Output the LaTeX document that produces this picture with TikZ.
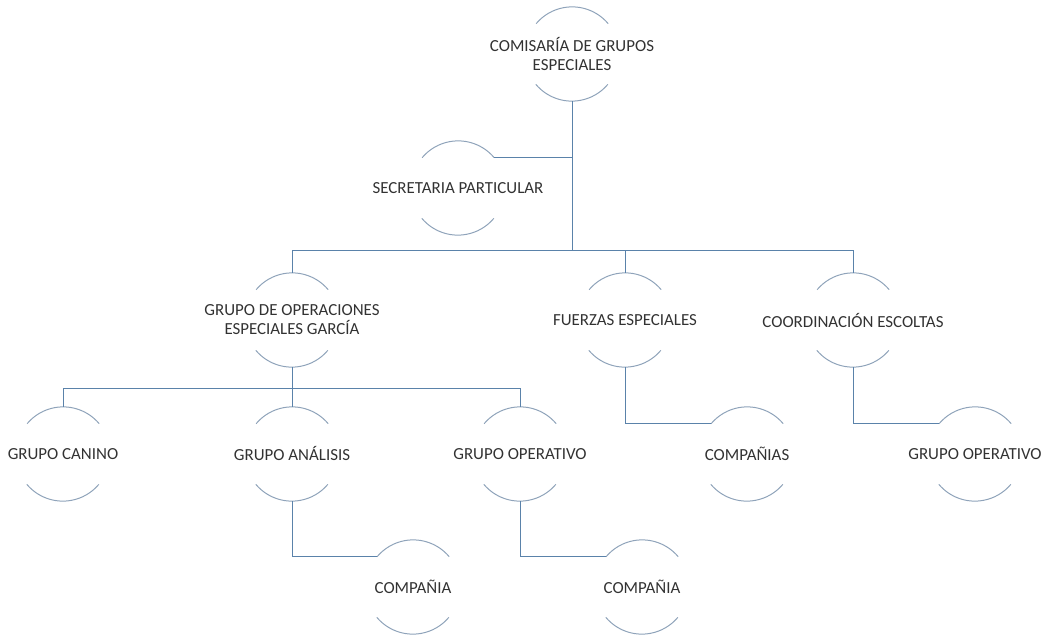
\documentclass[tikz,border=0pt]{standalone}
\usepackage{fontspec}
\setmainfont{Carlito}
\definecolor{arccol}{RGB}{143,163,186}
\definecolor{linecol}{RGB}{90,130,170}
\definecolor{txtcol}{RGB}{50,50,50}

\begin{document}
\begin{tikzpicture}[x=1pt,y=1pt]
        \tikzset{unit/.style = {circle, minimum size = 94pt, inner sep = 0pt},
        unittext/.style = {text = txtcol, align = center, font = \fontsize{16.9}{19}\selectfont},
        arcline/.style = {draw = arccol, line width = 1pt},
        conn/.style = {draw = linecol, line width = 1pt}}
        \useasboundingbox (0,0) rectangle (1047,-637);
        \node[unit, label = {[unittext]center:{COMISARÍA DE GRUPOS\\ESPECIALES}}] (comisaria) at (572,-54) {};
        \node[unit, label = {[unittext]center:SECRETARIA PARTICULAR}] (secretaria) at (458,-188) {};
        \node[unit, label = {[unittext]center:{GRUPO DE OPERACIONES\\ESPECIALES GARCÍA}}] (goe) at (292,-320) {};
        \node[unit, label = {[unittext]center:FUERZAS ESPECIALES}] (fuerzas) at (625,-320) {};
        \node[unit, label = {[unittext]center:COORDINACIÓN ESCOLTAS}] (escoltas) at (853,-320) {};
        \node[unit, label = {[unittext]center:GRUPO CANINO}] (canino) at (63,-454) {};
        \node[unit, label = {[unittext]center:GRUPO ANÁLISIS}] (analisis) at (292,-454) {};
        \node[unit, label = {[unittext]center:GRUPO OPERATIVO}] (operativoA) at (520,-454) {};
        \node[unit, label = {[unittext]center:COMPAÑIAS}] (companias) at (747,-454) {};
        \node[unit, label = {[unittext]center:GRUPO OPERATIVO}] (operativoB) at (975,-454) {};
        \node[unit, label = {[unittext]center:COMPAÑIA}] (companiaA) at (413,-587) {};
        \node[unit, label = {[unittext]center:COMPAÑIA}] (companiaB) at (642,-587) {};
        \foreach \n in {comisaria, secretaria, goe, fuerzas, escoltas, canino, analisis,
                operativoA, companias, operativoB, companiaA, companiaB} {
                \draw[arcline] (\n.40) arc[start angle = 40, end angle = 140, radius = 47];
                \draw[arcline] (\n.220) arc[start angle = 220, end angle = 320, radius = 47];
        }
        \coordinate (hubA) at (572,-250);
        \coordinate (hubB) at (292,-388);
        \draw[conn] (comisaria.south) -- (hubA);
        \draw[conn] (secretaria.40) -- (secretaria.40 -| comisaria.south);
        \draw[conn] (goe.north) |- (escoltas.north |- hubA) -- (escoltas.north);
        \draw[conn] (fuerzas.north) -- (fuerzas.north |- hubA);
        \draw[conn] (goe.south) -- (hubB);
        \draw[conn] (canino.north) |- (operativoA.north |- hubB) -- (operativoA.north);
        \draw[conn] (analisis.north) -- (hubB);
        \draw[conn] (fuerzas.south) |- (companias.140);
        \draw[conn] (escoltas.south) |- (operativoB.140);
        \draw[conn] (analisis.south) |- (companiaA.140);
        \draw[conn] (operativoA.south) |- (companiaB.140);
\end{tikzpicture}
\end{document}
